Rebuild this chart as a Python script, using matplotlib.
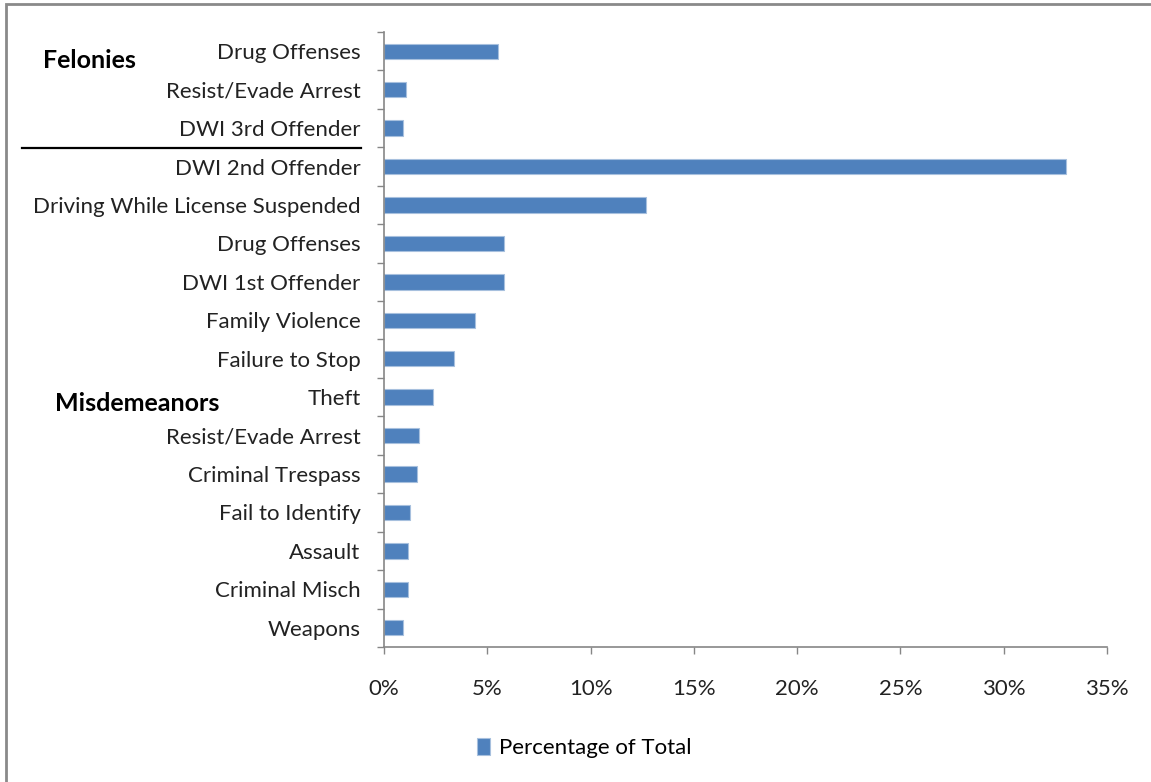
import numpy as np
import matplotlib.pyplot as plt
from matplotlib.lines import Line2D
from matplotlib.patches import Rectangle
from matplotlib.ticker import FuncFormatter

plt.rcParams['font.family'] = ['Lato', 'DejaVu Sans']

offenses = [
    'Drug Offenses', 'Resist/Evade Arrest', 'DWI 3rd Offender',
    'DWI 2nd Offender', 'Driving While License Suspended', 'Drug Offenses',
    'DWI 1st Offender', 'Family Violence', 'Failure to Stop', 'Theft',
    'Resist/Evade Arrest', 'Criminal Trespass', 'Fail to Identify',
    'Assault', 'Criminal Misch', 'Weapons',
]
pct_of_total = [
    5.51, 1.05, 0.93,
    33.0, 12.67, 5.82,
    5.82, 4.40, 3.37, 2.35,
    1.68, 1.61, 1.27,
    1.16, 1.16, 0.93,
]
x_ticks = [0, 5, 10, 15, 20, 25, 30, 35]

W, H = 1151, 782
fig = plt.figure(figsize=(W / 100, H / 100), dpi=100)
ax = fig.add_axes([384 / W, 1 - 647 / H, (1107 - 384) / W, (647 - 32) / H])

y = np.arange(len(offenses))
ax.barh(y, pct_of_total, height=0.4, color='#4F81BD', edgecolor='#A7C0DE',
        linewidth=0.8, label='Percentage of Total')
ax.set_ylim(len(offenses) - 0.5, -0.5)
ax.set_xlim(0, 35)

ax.set_xticks(x_ticks)
ax.xaxis.set_major_formatter(FuncFormatter(lambda v, p: f'{v:.0f}%'))
ax.set_yticks(y)
ax.set_yticklabels(offenses)
ax.set_yticks(np.arange(len(offenses) + 1) - 0.5, minor=True)

grey = '#868686'
for side in ['top', 'right']:
    ax.spines[side].set_visible(False)
for side in ['left', 'bottom']:
    ax.spines[side].set_color(grey)
    ax.spines[side].set_linewidth(1.2)

ax.tick_params(axis='x', direction='out', length=5, width=1, color=grey,
               pad=18, labelsize=16, labelcolor='#222222')
ax.tick_params(axis='y', which='major', length=0, pad=17, labelsize=16,
               labelcolor='#222222')
ax.tick_params(axis='y', which='minor', direction='out', length=5, width=1,
               color=grey)

# group labels and separator
fig.text(89.5 / W, 1 - 61 / H, 'Felonies', ha='center', va='center',
         fontsize=18, fontweight='bold')
fig.text(137 / W, 1 - 403 / H, 'Misdemeanors', ha='center', va='center',
         fontsize=18, fontweight='bold')
fig.add_artist(Line2D([22 / W, 361 / W], [1 - 148 / H, 1 - 148 / H],
                      color='black', linewidth=1.6))

# outer frame
fig.add_artist(Rectangle((6 / W, -0.1), 1.2, 1 - 4 / H + 0.1,
                         fill=False, edgecolor='#8a8a8a', linewidth=2))

fig.legend(loc='center', bbox_to_anchor=(584 / W, 1 - 748 / H), frameon=False,
           fontsize=16, handlelength=0.6, handleheight=0.85, handletextpad=0.4)

plt.savefig('out.png', dpi=100)
